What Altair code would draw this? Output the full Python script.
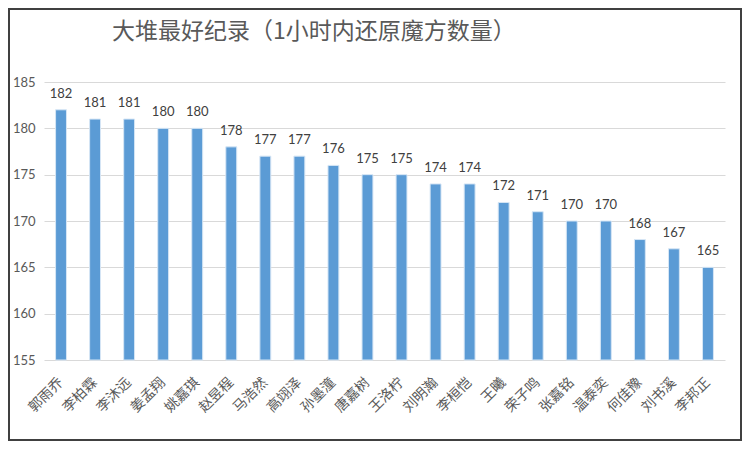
import pandas as pd
import altair as alt

names = ['郭雨乔', '李柏霖', '李沐远', '姜孟翔', '姚嘉琪', '赵昱程', '马浩然', '高翊泽', '孙墨潼', '唐嘉树',
         '王洛柠', '刘明瀚', '李桓恺', '王曦', '荣子鸣', '张嘉铭', '温泰奕', '何佳豫', '刘书溪', '李邦正']
scores = [182, 181, 181, 180, 180, 178, 177, 177, 176, 175,
          175, 174, 174, 172, 171, 170, 170, 168, 167, 165]

data = pd.DataFrame({'name': names, 'score': scores})

W = 681
H = 278

base = alt.Chart(data)

bars = base.mark_bar(color='#5b9bd5', stroke='#d6e6f5', strokeWidth=1).encode(
    x=alt.X('name:N', sort=None, title=None,
            scale=alt.Scale(paddingInner=0.68, paddingOuter=0.34),
            axis=alt.Axis(labelAngle=-45, labelAlign='right', labelBaseline='middle',
                          labelFont='Noto Sans CJK SC', labelFontSize=14, labelColor='#595959',
                          ticks=False, domain=False, labelPadding=20)),
    y=alt.Y('score:Q', title=None,
            scale=alt.Scale(domain=[155, 185], zero=False, nice=False),
            axis=alt.Axis(values=[155, 160, 165, 170, 175, 180, 185], ticks=False, domain=False,
                          labelFont='Lato', labelFontSize=13, labelColor='#595959', labelPadding=9,
                          gridColor='#d9d9d9', gridWidth=1)),
    y2=alt.datum(155)
)

labels = base.mark_text(dy=-16, font='Lato', fontSize=13, color='#404040').encode(
    x=alt.X('name:N', sort=None),
    y='score:Q',
    text='score:Q'
)

# thin outer border like the spreadsheet chart area
frame = alt.Chart(pd.DataFrame({'f': [0]})).mark_rect(
    fill=None, stroke='#404040', strokeWidth=2
).encode(
    x=alt.value(-35), x2=alt.value(W + 16),
    y=alt.value(-73), y2=alt.value(H + 80)
)

chart = alt.layer(frame, bars, labels).properties(
    width=W,
    height=H,
    autosize=alt.AutoSizeParams(type='none'),
    padding={'left': 36, 'top': 74, 'right': 17, 'bottom': 81},
    title=alt.TitleParams('大堆最好纪录（1小时内还原魔方数量）', anchor='start', dx=104, offset=-36,
                          font='Noto Sans CJK SC', fontSize=23, fontWeight='normal', color='#595959')
).configure_view(stroke=None).configure_axisX(grid=False)

chart.save('out.html', embed_options={'renderer': 'svg', 'actions': False})
